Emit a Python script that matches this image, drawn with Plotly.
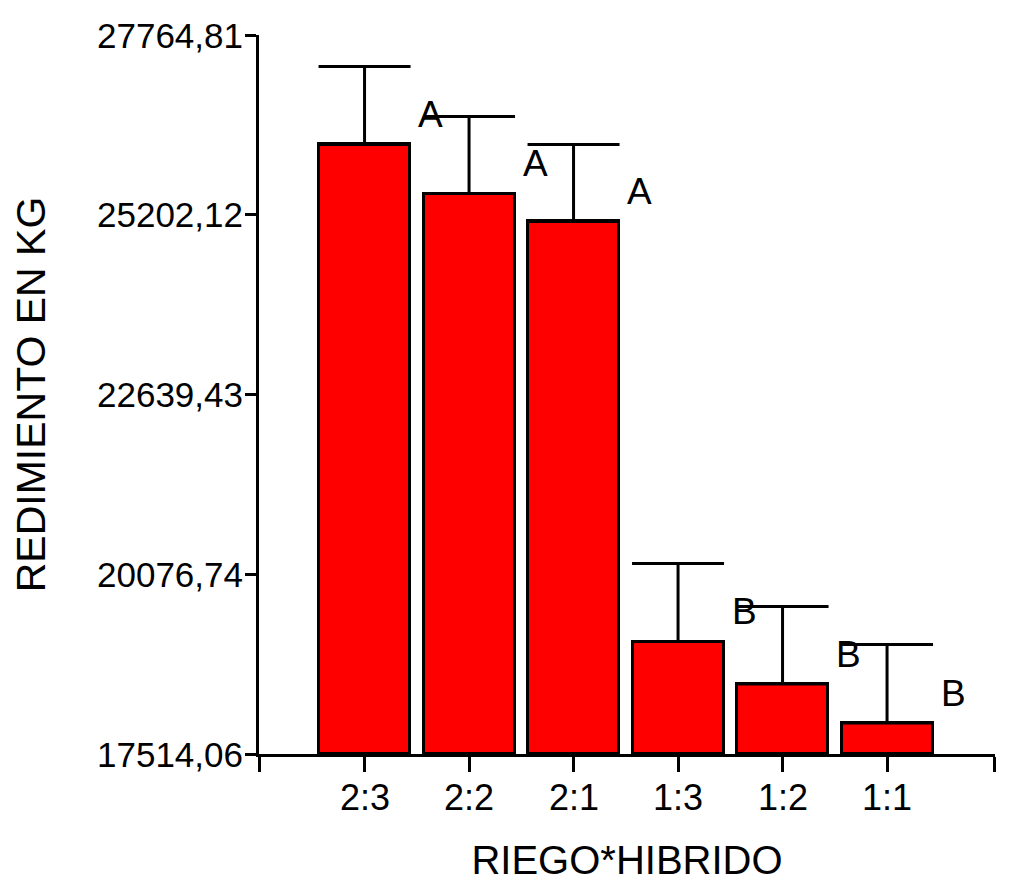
import plotly.graph_objects as go

categories = ["2:3", "2:2", "2:1", "1:3", "1:2", "1:1"]
means = [26204, 25505, 25106, 19118, 18512, 17956]
errors = [1112, 1098, 1098, 1112, 1105, 1119]
letters = ["A", "A", "A", "B", "B", "B"]
y_ticks = [17514.06, 20076.74, 22639.43, 25202.12, 27764.81]
y_tick_text = ["17514,06", "20076,74", "22639,43", "25202,12", "27764,81"]

FONT = "Liberation Sans, Arial, sans-serif"
xpos = list(range(len(categories)))
x_lo, x_hi = -1.01, 6.033

fig = go.Figure()
fig.add_trace(go.Bar(
    x=xpos, y=[m - y_ticks[0] for m in means], base=y_ticks[0],
    width=0.87,
    marker=dict(color="#FF0000", line=dict(color="black", width=3)),
    error_y=dict(type="data", symmetric=False, array=errors,
                 arrayminus=[0] * len(errors), color="black",
                 thickness=3, width=46),
    showlegend=False,
))

for i, (m, l) in enumerate(zip(means, letters)):
    fig.add_annotation(x=i, y=m, text=l, showarrow=False,
                       xshift=66, yshift=30, xanchor="center", yanchor="middle",
                       font=dict(family=FONT, size=37, color="black"))

# category labels under the ticks
for i, c in enumerate(categories):
    fig.add_annotation(x=i, y=0, xref="x", yref="paper", text=c, showarrow=False,
                       xanchor="center", yanchor="middle", yshift=-43,
                       font=dict(family=FONT, size=36, color="black"))

# y tick labels
for v, t in zip(y_ticks, y_tick_text):
    fig.add_annotation(x=0, y=v, xref="paper", yref="y", text=t, showarrow=False,
                       xanchor="right", yanchor="middle", xshift=-14,
                       font=dict(family=FONT, size=35, color="black"))

fig.update_layout(
    width=1010, height=885,
    margin=dict(l=251, r=23, t=27, b=139),
    paper_bgcolor="white", plot_bgcolor="white",
    font=dict(family=FONT, color="black"),
    bargap=0,
)
fig.update_xaxes(
    automargin=False,
    range=[x_lo, x_hi],
    tickvals=[x_lo + 0.001] + xpos + [x_hi - 0.001],
    showticklabels=False,
    ticks="outside", ticklen=15, tickwidth=3, tickcolor="black",
    showline=True, linewidth=3, linecolor="black",
    showgrid=False, zeroline=False,
    title=dict(text="RIEGO*HIBRIDO", font=dict(family=FONT, size=40, color="black"), standoff=75),
)
fig.update_yaxes(
    automargin=False,
    range=[y_ticks[0], y_ticks[-1]],
    tickvals=y_ticks, showticklabels=False,
    ticks="outside", ticklen=11, tickwidth=3, tickcolor="black",
    showline=True, linewidth=3, linecolor="black",
    showgrid=False, zeroline=False,
    title=dict(text="REDIMIENTO EN KG", font=dict(family=FONT, size=41, color="black"), standoff=190),
)

fig.write_html("out.html")
